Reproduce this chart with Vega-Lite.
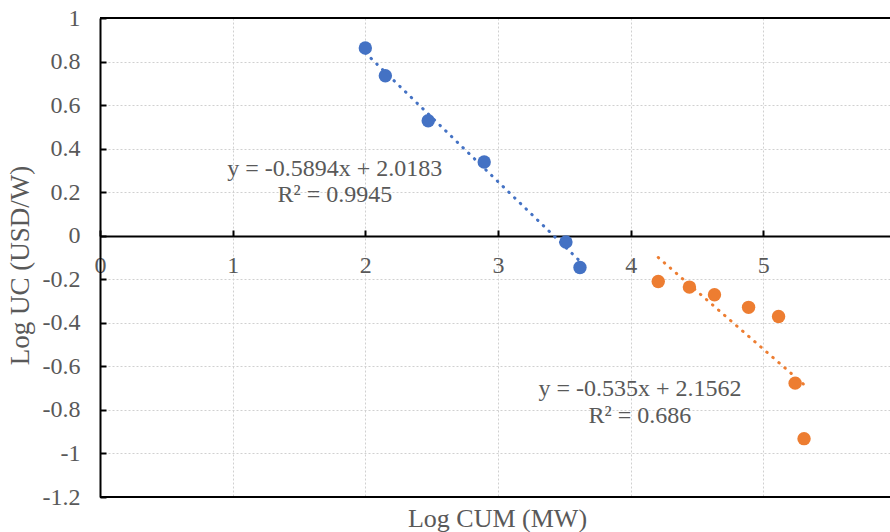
{
  "$schema": "https://vega.github.io/schema/vega-lite/v6.json",
  "width": 790,
  "height": 479,
  "autosize": {"type": "none"},
  "padding": {"left": 100, "top": 18, "right": 0, "bottom": 35},
  "background": "white",
  "config": {"view": {"stroke": null}, "font": "Liberation Serif"},
  "datasets": {
    "points": [
      {"series": "A", "cum": 2.0, "uc": 0.862},
      {"series": "A", "cum": 2.151, "uc": 0.735},
      {"series": "A", "cum": 2.474, "uc": 0.528},
      {"series": "A", "cum": 2.896, "uc": 0.339},
      {"series": "A", "cum": 3.512, "uc": -0.029},
      {"series": "A", "cum": 3.618, "uc": -0.146},
      {"series": "B", "cum": 4.208, "uc": -0.21},
      {"series": "B", "cum": 4.443, "uc": -0.236},
      {"series": "B", "cum": 4.632, "uc": -0.271},
      {"series": "B", "cum": 4.889, "uc": -0.329},
      {"series": "B", "cum": 5.115, "uc": -0.371},
      {"series": "B", "cum": 5.24, "uc": -0.677},
      {"series": "B", "cum": 5.307, "uc": -0.932}
    ],
    "labels": [
      {"label": "y = -0.5894x + 2.0183", "cum": 1.77, "uc": 0.2756},
      {"label": "R² = 0.9945", "cum": 1.77, "uc": 0.153},
      {"label": "y = -0.535x + 2.1562", "cum": 4.07, "uc": -0.735},
      {"label": "R² = 0.686", "cum": 4.07, "uc": -0.858}
    ]
  },
  "layer": [
    {
      "data": {"name": "points"},
      "mark": {"type": "circle", "size": 180, "opacity": 1},
      "encoding": {
        "x": {
          "field": "cum",
          "type": "quantitative",
          "scale": {"domain": [0, 5.955], "nice": false, "zero": false},
          "axis": {
            "values": [0, 1, 2, 3, 4, 5],
            "labelExpr": "replace(format(datum.value, '~g'), '−', '-')",
            "offset": -261,
            "domainColor": "black",
            "domainWidth": 2,
            "tickColor": "black",
            "tickWidth": 2,
            "tickSize": -6,
            "labelPadding": 23,
            "labelFlush": false,
            "labelOverlap": false,
            "labelAngle": 0,
            "labelFont": "Liberation Serif",
            "labelFontSize": 24,
            "labelColor": "#595959",
            "grid": true,
            "gridColor": "#D0D0D0",
            "gridDash": [2, 2],
            "gridWidth": 1,
            "title": "Log CUM (MW)",
            "titleFont": "Liberation Serif",
            "titleFontSize": 26,
            "titleFontWeight": "normal",
            "titleColor": "#595959",
            "titleBaseline": "alphabetic",
            "titleX": 397,
            "titleY": 290
          }
        },
        "y": {
          "field": "uc",
          "type": "quantitative",
          "scale": {"domain": [-1.2, 1], "nice": false, "zero": false},
          "axis": {
            "values": [-1.2, -1, -0.8, -0.6, -0.4, -0.2, 0, 0.2, 0.4, 0.6, 0.8, 1],
            "labelExpr": "replace(format(datum.value, '~g'), '−', '-')",
            "domainColor": "black",
            "domainWidth": 2,
            "tickColor": "black",
            "tickWidth": 2,
            "tickSize": -6,
            "labelPadding": 26,
            "labelOverlap": false,
            "labelFont": "Liberation Serif",
            "labelFontSize": 24,
            "labelColor": "#595959",
            "grid": true,
            "gridColor": "#D0D0D0",
            "gridDash": [2, 2],
            "gridWidth": 1,
            "title": "Log UC (USD/W)",
            "titleFont": "Liberation Serif",
            "titleFontSize": 27,
            "titleFontWeight": "normal",
            "titleColor": "#595959",
            "titleAngle": -90,
            "titleAlign": "center",
            "titleBaseline": "alphabetic",
            "titleX": -72,
            "titleY": 247
          }
        },
        "color": {
          "field": "series",
          "type": "nominal",
          "scale": {"domain": ["A", "B"], "range": ["#4472C4", "#ED7D31"]},
          "legend": null
        }
      }
    },
    {
      "data": {"name": "points"},
      "transform": [{"regression": "uc", "on": "cum", "groupby": ["series"]}],
      "mark": {"type": "line", "strokeWidth": 3, "strokeDash": [0.5, 7.5], "strokeCap": "round"},
      "encoding": {
        "x": {"field": "cum", "type": "quantitative"},
        "y": {"field": "uc", "type": "quantitative"},
        "color": {"field": "series", "type": "nominal", "legend": null}
      }
    },
    {
      "data": {"values": [{}]},
      "mark": {"type": "rule", "color": "black", "strokeWidth": 2},
      "encoding": {"y": {"datum": 1}}
    },
    {
      "data": {"values": [{}]},
      "mark": {"type": "rule", "color": "black", "strokeWidth": 2},
      "encoding": {"y": {"datum": -1.2}}
    },
    {
      "data": {"name": "labels"},
      "mark": {"type": "text", "font": "Liberation Serif", "fontSize": 24, "color": "#595959", "align": "center", "baseline": "alphabetic"},
      "encoding": {
        "x": {"field": "cum", "type": "quantitative"},
        "y": {"field": "uc", "type": "quantitative"},
        "text": {"field": "label"}
      }
    }
  ]
}
